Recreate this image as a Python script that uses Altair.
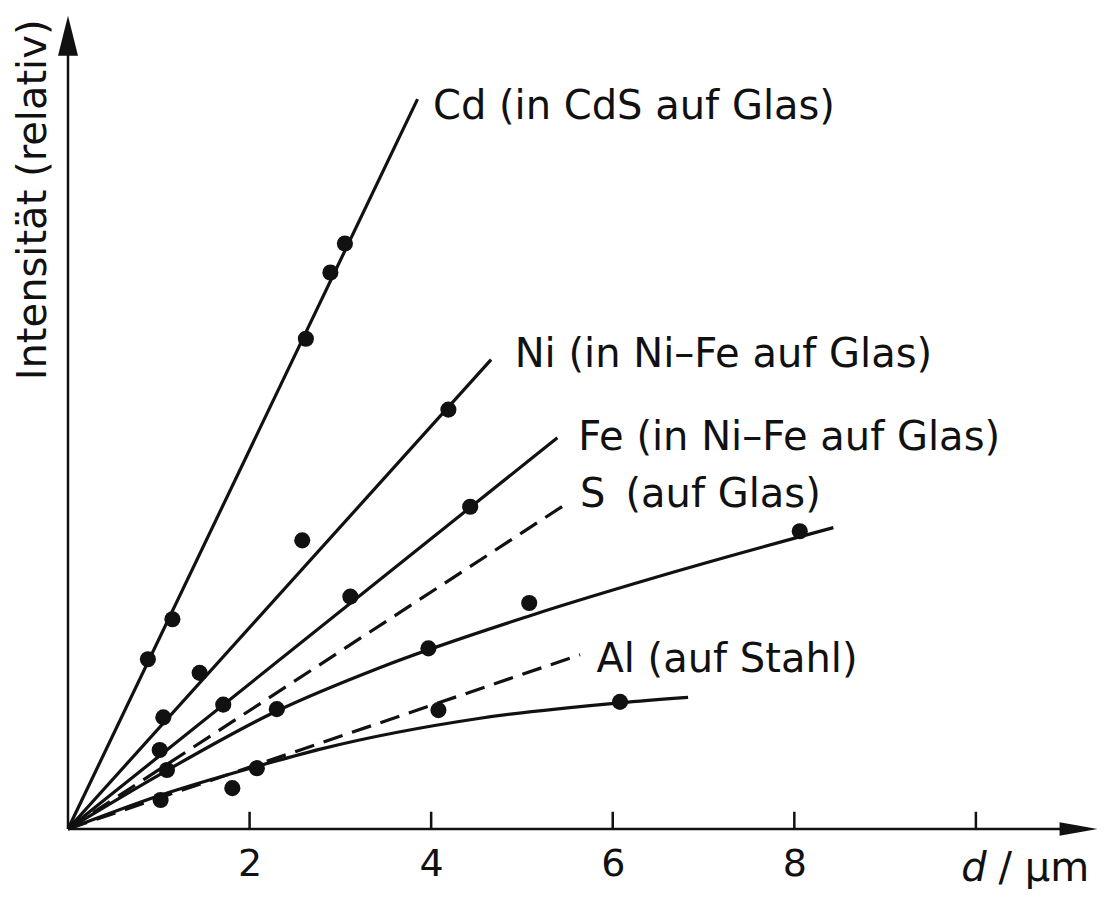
import altair as alt
import pandas as pd

# ---------------- data (x: layer thickness d in µm, y: relative intensity) ----------------
cd_line_x = [0, 3.85]
cd_line_y = [0, 8.04]
ni_line_x = [0, 4.66]
ni_line_y = [0, 5.17]
fe_line_x = [0, 5.39]
fe_line_y = [0, 4.31]
s_line_x = [0, 5.50]
s_line_y = [0, 3.59]
mid_curve_x = [0, 1.01, 2.30, 3.44, 5.09, 6.74, 8.43]
mid_curve_y = [0, 0.60, 1.30, 1.78, 2.35, 2.85, 3.32]
al_line_x = [0, 5.64]
al_line_y = [0, 1.92]
low_curve_x = [0, 1.01, 2.08, 2.78, 4.54, 6.08, 6.83]
low_curve_y = [0, 0.37, 0.69, 0.88, 1.22, 1.39, 1.45]

cd_pts_x = [0.88, 1.15, 2.62, 2.89, 3.05]
cd_pts_y = [1.87, 2.31, 5.40, 6.13, 6.45]
ni_pts_x = [1.05, 1.45, 2.58, 4.19]
ni_pts_y = [1.23, 1.72, 3.18, 4.62]
fe_pts_x = [1.01, 1.71, 3.11, 4.43]
fe_pts_y = [0.87, 1.37, 2.56, 3.55]
mid_pts_x = [1.09, 2.30, 3.97, 5.08, 8.06]
mid_pts_y = [0.65, 1.32, 1.99, 2.49, 3.28]
al_pts_x = [4.08]
al_pts_y = [1.31]
low_pts_x = [1.02, 1.81, 2.08, 6.08]
low_pts_y = [0.32, 0.45, 0.67, 1.40]

label_texts = ["Cd (in CdS auf Glas)", "Ni (in Ni–Fe auf Glas)", "Fe (in Ni–Fe auf Glas)",
               "S\u2002(auf Glas)", "Al (auf Stahl)"]
label_x = [4.02, 4.92, 5.62, 5.64, 5.82]
label_y = [7.95, 5.22, 4.31, 3.68, 1.86]

tick_values = [2, 4, 6, 8, 10]
tick_labels = [2, 4, 6, 8]
x_title_italic = "d"
x_title_rest = "/ µm"
y_title = "Intensität (relativ)"

FONT = "DejaVu Sans"
FS = 40
FS_TICK = 38
INK = "#111111"

# ---------------- tables ----------------
rows = []
for name, xs_, ys_, dash in [
    ("Cd", cd_line_x, cd_line_y, "solid"),
    ("Ni", ni_line_x, ni_line_y, "solid"),
    ("Fe", fe_line_x, fe_line_y, "solid"),
    ("S", s_line_x, s_line_y, "dashed"),
    ("mid", mid_curve_x, mid_curve_y, "solid"),
    ("Al", al_line_x, al_line_y, "dashed"),
    ("low", low_curve_x, low_curve_y, "solid"),
]:
    for i, (a, b) in enumerate(zip(xs_, ys_)):
        rows.append(dict(series=name, order=i, x=a, y=b, dash=dash))
df_lines = pd.DataFrame(rows)

prow = []
for xs_, ys_ in [(cd_pts_x, cd_pts_y), (ni_pts_x, ni_pts_y), (fe_pts_x, fe_pts_y),
                 (mid_pts_x, mid_pts_y), (al_pts_x, al_pts_y), (low_pts_x, low_pts_y)]:
    for a, b in zip(xs_, ys_):
        prow.append(dict(x=a, y=b))
df_pts = pd.DataFrame(prow)

df_labels = pd.DataFrame(dict(label=label_texts, x=label_x, y=label_y))

X_MAX = 11.4
Y_MAX = 9.0
xs = alt.Scale(domain=[0, X_MAX], nice=False, zero=False)
ys = alt.Scale(domain=[0, Y_MAX], nice=False, zero=False)
x_axis = alt.Axis(values=tick_labels, domain=False, ticks=False, grid=False, title=None,
                  labelFont=FONT, labelFontSize=FS_TICK, labelColor=INK, labelPadding=16,
                  labelFlush=False, labelOverlap=False)


def X(field="x:Q"):
    return alt.X(field, scale=xs, axis=x_axis)


def Y(field="y:Q"):
    return alt.Y(field, scale=ys, axis=None)


solid = alt.Chart(df_lines[df_lines.dash == "solid"]).mark_line(
    color=INK, strokeWidth=3.2, interpolate="monotone"
).encode(x=X(), y=Y(), detail="series:N", order="order:Q")

dashed = alt.Chart(df_lines[df_lines.dash == "dashed"]).mark_line(
    color=INK, strokeWidth=3.2, strokeDash=[20, 10]
).encode(x=X(), y=Y(), detail="series:N", order="order:Q")

points = alt.Chart(df_pts).mark_circle(color=INK, size=260, opacity=1).encode(x=X(), y=Y())

# axes drawn as arrows
df_xaxis = pd.DataFrame(dict(x=[0], x2=[X_MAX - 0.2], y=[0]))
df_yaxis = pd.DataFrame(dict(x=[0], y=[0], y2=[Y_MAX - 0.2]))
x_line = alt.Chart(df_xaxis).mark_rule(color=INK, strokeWidth=2.5).encode(
    x=X(), x2="x2:Q", y=Y())
y_line = alt.Chart(df_yaxis).mark_rule(color=INK, strokeWidth=2.5).encode(
    x=X(), y=Y(), y2="y2:Q")

df_xarrow = pd.DataFrame(dict(x=[11.34], y=[0]))
df_yarrow = pd.DataFrame(dict(x=[0], y=[8.96]))
x_arrow = alt.Chart(df_xarrow).mark_point(
    shape="M0,0L-2,-0.36L-2,0.36Z", size=1444, filled=True, color=INK, opacity=1
).encode(x=X(), y=Y())
y_arrow = alt.Chart(df_yarrow).mark_point(
    shape="M0,0L-0.5,2L0.5,2Z", size=1600, filled=True, color=INK, opacity=1
).encode(x=X(), y=Y())

df_ticks = pd.DataFrame(dict(x=tick_values, y=[0] * len(tick_values), y2=[0.19] * len(tick_values)))
ticks = alt.Chart(df_ticks).mark_rule(color=INK, strokeWidth=2.5).encode(
    x=X(), y=Y(), y2="y2:Q")

labels = alt.Chart(df_labels).mark_text(
    align="left", baseline="middle", font=FONT, fontSize=FS, color=INK
).encode(x=X(), y=Y(), text="label:N")

df_ytitle = pd.DataFrame(dict(x=[-0.37], y=[6.93], t=[y_title]))
ytitle = alt.Chart(df_ytitle).mark_text(
    angle=270, align="center", baseline="middle", font=FONT, fontSize=FS, color=INK
).encode(x=X(), y=Y(), text="t:N")

df_xt1 = pd.DataFrame(dict(x=[9.84], y=[-0.44], t=[x_title_italic]))
df_xt2 = pd.DataFrame(dict(x=[10.25], y=[-0.44], t=[x_title_rest]))
xt1 = alt.Chart(df_xt1).mark_text(
    align="left", baseline="middle", font=FONT, fontSize=FS, fontStyle="italic", color=INK
).encode(x=X(), y=Y(), text="t:N")
xt2 = alt.Chart(df_xt2).mark_text(
    align="left", baseline="middle", font=FONT, fontSize=FS, color=INK
).encode(x=X(), y=Y(), text="t:N")

chart = alt.layer(
    solid, dashed, points, x_line, y_line, ticks, x_arrow, y_arrow, labels, ytitle, xt1, xt2
).properties(
    width=1035, height=817,
    autosize=alt.AutoSizeParams(type="none"),
    padding={"left": 60, "top": 4, "right": 4, "bottom": 60},
    background="white",
).configure_view(stroke=None)

chart.save("out.html", embed_options={"renderer": "svg", "actions": False})
